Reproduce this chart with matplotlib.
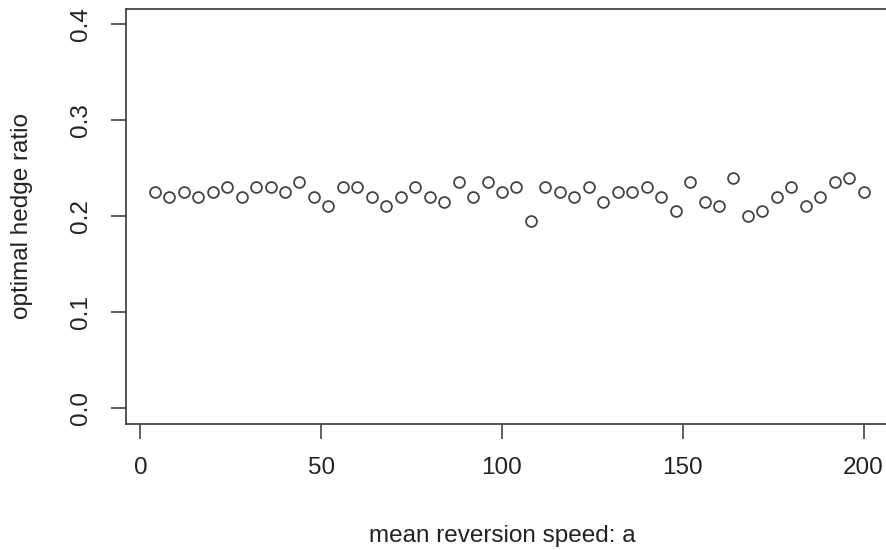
import matplotlib
matplotlib.use("Agg")
import matplotlib.pyplot as plt
import numpy as np

# mean reversion speed a = 4, 8, ..., 200
speed = list(range(4, 201, 4))
hedge_ratio = [
    0.225, 0.220, 0.225, 0.220, 0.225, 0.230, 0.220, 0.230, 0.230, 0.225,
    0.235, 0.220, 0.210, 0.230, 0.230, 0.220, 0.210, 0.220, 0.230, 0.220,
    0.215, 0.235, 0.220, 0.235, 0.225, 0.230, 0.195, 0.230, 0.225, 0.220,
    0.230, 0.215, 0.225, 0.225, 0.230, 0.220, 0.205, 0.235, 0.215, 0.210,
    0.240, 0.200, 0.205, 0.220, 0.230, 0.210, 0.220, 0.235, 0.240, 0.225,
]
xticks = [0, 50, 100, 150, 200]
yticks = [0.0, 0.1, 0.2, 0.3, 0.4]
ytick_labels = ["0.0", "0.1", "0.2", "0.3", "0.4"]

plt.rcParams["font.family"] = ["Liberation Sans", "DejaVu Sans"]
line_col = "#444444"
text_col = "#222222"

fig = plt.figure(figsize=(8.87, 5.5), dpi=100)
# plot region runs past the right edge, like the cropped R output
ax = fig.add_axes([0.1426, 0.23, 1.0056 - 0.1426, 0.9845 - 0.23])

ax.plot(speed, hedge_ratio, linestyle="none", marker="o", markersize=7.8,
        markerfacecolor="none", markeredgecolor=line_col, markeredgewidth=1.3)

# R style: 4% padding around the data range
xr = max(speed) - min(speed)
ax.set_xlim(min(speed) - 0.04 * xr, max(speed) + 0.04 * xr)
ax.set_ylim(-0.016, 0.416)

ax.set_xticks(xticks)
ax.set_xticklabels([str(t) for t in xticks])
ax.set_yticks(yticks)
ax.set_yticklabels(ytick_labels, rotation=90, va="center")

ax.tick_params(axis="both", length=11, width=1.2, color=line_col,
               labelsize=17.5, labelcolor=text_col)
ax.tick_params(axis="x", pad=13)
ax.tick_params(axis="y", pad=14)

for s in ax.spines.values():
    s.set_color(line_col)
    s.set_linewidth(1.3)

ax.set_xlabel("mean reversion speed: a", fontsize=17.5, color=text_col)
ax.set_ylabel("optimal hedge ratio", fontsize=17.5, color=text_col)
ax.xaxis.set_label_coords(0.4906, -0.245)
ax.yaxis.set_label_coords(-0.122, 0.5)

fig.savefig("out.png", dpi=100)
